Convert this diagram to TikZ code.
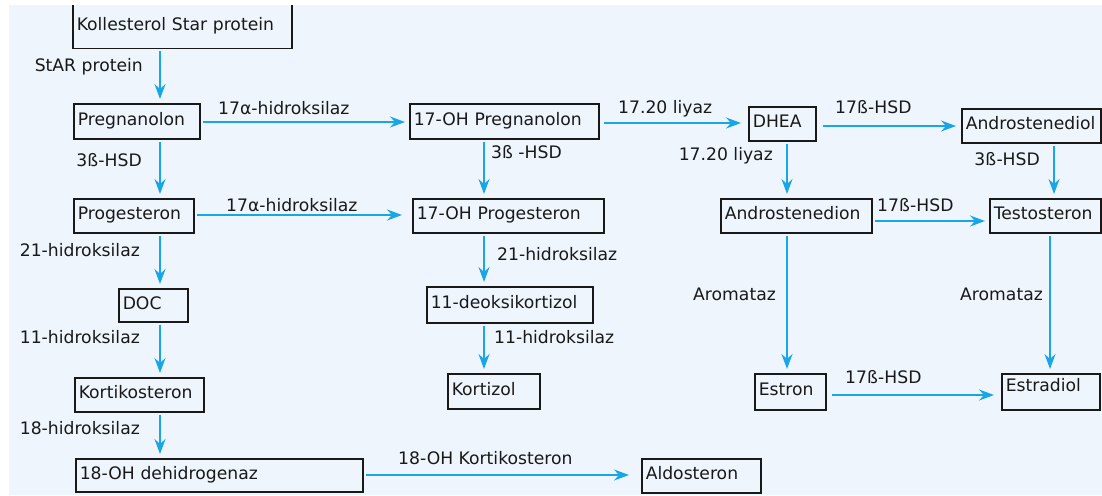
\documentclass[tikz,border=0pt]{standalone}
\usepackage{fontspec}
\setmainfont{DejaVu Sans}
\usetikzlibrary{arrows.meta}
\definecolor{bgblue}{RGB}{238,245,252}
\definecolor{arrowblue}{RGB}{24,166,230}
\definecolor{ink}{RGB}{25,25,25}
\begin{document}
\begin{tikzpicture}[x=1pt,y=-1pt,
  box/.style={draw=ink, line width=1.5pt, inner xsep=4pt, inner ysep=0pt, align=left,
    text=ink, text height=12pt, text depth=4pt, anchor=north west,
    font=\fontsize{17.2}{19}\selectfont},
  lbl/.style={inner sep=0pt, text=ink, text height=12pt, text depth=0pt,
    font=\fontsize{17.2}{19}\selectfont},
  arr/.style={draw=arrowblue, line width=1.5pt,
    -{Stealth[length=15pt,width=11pt,inset=5pt]}, shorten >=4pt, shorten <=2pt}]
\useasboundingbox (0,0) rectangle (1102,495);
\fill[white] (0,0) rectangle (1102,495);
\fill[bgblue] (9,5) rectangle (1102,495);

% column / row helpers
\coordinate (c1) at (160,0);
\coordinate (c2) at (484,0);
\coordinate (c3) at (787,0);
\coordinate (c4) at (1054,0);
\coordinate (c5) at (1050,0);
\coordinate (r1) at (0,122);
\coordinate (r2) at (0,123);
\coordinate (r3) at (0,126);
\coordinate (r4) at (0,221);
\coordinate (r5) at (0,395);
\coordinate (r6) at (0,475);
\coordinate (r7) at (0,215);

% boxes
\node[box, text width=211pt, minimum height=44pt] (K) at (72,4) {\mbox{Kollesterol Star protein}};
\node[box, text width=118pt, minimum height=35pt] (P) at (73,103) {\mbox{Pregnanolon}};
\node[box, text width=112pt, minimum height=34pt] (PR) at (73,198) {\mbox{Progesteron}};
\node[box, text width=61pt, minimum height=33pt] (DOC) at (118,288) {\mbox{DOC}};
\node[box, text width=121pt, minimum height=34pt] (KS) at (74,377) {\mbox{Kortikosteron}};
\node[box, text width=279pt, minimum height=33pt] (OHD) at (75,458) {\mbox{18-OH dehidrogenaz}};
\node[box, text width=181pt, minimum height=35pt] (OHP) at (409,103) {\mbox{17-OH Pregnanolon}};
\node[box, text width=183pt, minimum height=34pt] (OHPR) at (412,198) {\mbox{17-OH Progesteron}};
\node[box, text width=158pt, minimum height=36pt] (DK) at (426,286) {\mbox{11-deoksikortizol}};
\node[box, text width=84pt, minimum height=35pt] (KZ) at (447,373) {\mbox{Kortizol}};
\node[box, text width=111pt, minimum height=34pt] (AL) at (641,458) {\mbox{Aldosteron}};
\node[box, text width=59pt, minimum height=34pt] (DHEA) at (748,106) {\mbox{DHEA}};
\node[box, text width=131pt, minimum height=34pt] (ADL) at (961,108) {\mbox{Androstenediol}};
\node[box, text width=143pt, minimum height=34pt] (ADN) at (720,198) {\mbox{Androstenedion}};
\node[box, text width=103pt, minimum height=34pt] (TS) at (989,198) {\mbox{Testosteron}};
\node[box, text width=63pt, minimum height=36pt] (ES) at (754,373) {\mbox{Estron}};
\node[box, text width=90pt, minimum height=36pt, text depth=12pt] (ED) at (1001,373) {\mbox{Estradiol}};

% white top strip hides top edge of first box
\fill[white] (0,0) rectangle (1102,5);

% arrows
\draw[arr] (K.south -| c1) -- (P.north -| c1);
\draw[arr] (P.south -| c1) -- (PR.north -| c1);
\draw[arr] (PR.south -| c1) -- (DOC.north -| c1);
\draw[arr] (DOC.south -| c1) -- (KS.north -| c1);
\draw[arr] (KS.south -| c1) -- (OHD.north -| c1);
\draw[arr] (P.east |- r1) -- (OHP.west |- r1);
\draw[arr, shorten >=10pt] (PR.east |- r7) -- (OHPR.west |- r7);
\draw[arr] (OHP.south -| c2) -- (OHPR.north -| c2);
\draw[arr] (OHPR.south -| c2) -- (DK.north -| c2);
\draw[arr] (DK.south -| c2) -- (KZ.north -| c2);
\draw[arr, shorten >=12pt] (OHD.east |- r6) -- (AL.west |- r6);
\draw[arr, shorten >=7pt, shorten <=4pt] (OHP.east |- r2) -- (DHEA.west |- r2);
\draw[arr, shorten <=6pt, shorten >=5pt] (DHEA.east |- r3) -- (ADL.west |- r3);
\draw[arr] (DHEA.south -| c3) -- (ADN.north -| c3);
\draw[arr] (ADL.south -| c4) -- (TS.north -| c4);
\draw[arr] (ADN.east |- r4) -- (TS.west |- r4);
\draw[arr] (ADN.south -| c3) -- (ES.north -| c3);
\draw[arr] (TS.south -| c5) -- (ED.north -| c5);
\draw[arr, shorten <=5pt, shorten >=7pt] (ES.east |- r5) -- (ED.west |- r5);

% labels
\node[lbl, anchor=east] (l1) at (143,65) {StAR protein};
\node[lbl, anchor=west] (l2) at (218,108) {17α-hidroksilaz};
\node[lbl, anchor=east] (l3) at (142,160) {3ß-HSD};
\node[lbl, anchor=west] (l4) at (226,205) {17α-hidroksilaz};
\node[lbl, anchor=east] (l5) at (140,250) {21-hidroksilaz};
\node[lbl, anchor=east] (l6) at (140,337) {11-hidroksilaz};
\node[lbl, anchor=east] (l7) at (140,428) {18-hidroksilaz};
\node[lbl, anchor=west] (l8) at (491,152) {3ß -HSD};
\node[lbl, anchor=west] (l9) at (497,254) {21-hidroksilaz};
\node[lbl, anchor=west] (l10) at (494,337) {11-hidroksilaz};
\node[lbl, anchor=west] (l11) at (398,458) {18-OH Kortikosteron};
\node[lbl, anchor=west] (l12) at (618,107) {17.20 liyaz};
\node[lbl, anchor=east] (l13) at (773,154) {17.20 liyaz};
\node[lbl, anchor=west] (l14) at (835,107) {17ß-HSD};
\node[lbl, anchor=east] (l15) at (1040,159) {3ß-HSD};
\node[lbl, anchor=west] (l16) at (877,205) {17ß-HSD};
\node[lbl, anchor=east] (l17) at (776,294) {Aromataz};
\node[lbl, anchor=east] (l18) at (1043,294) {Aromataz};
\node[lbl, anchor=west] (l19) at (845,377) {17ß-HSD};
\end{tikzpicture}
\end{document}
